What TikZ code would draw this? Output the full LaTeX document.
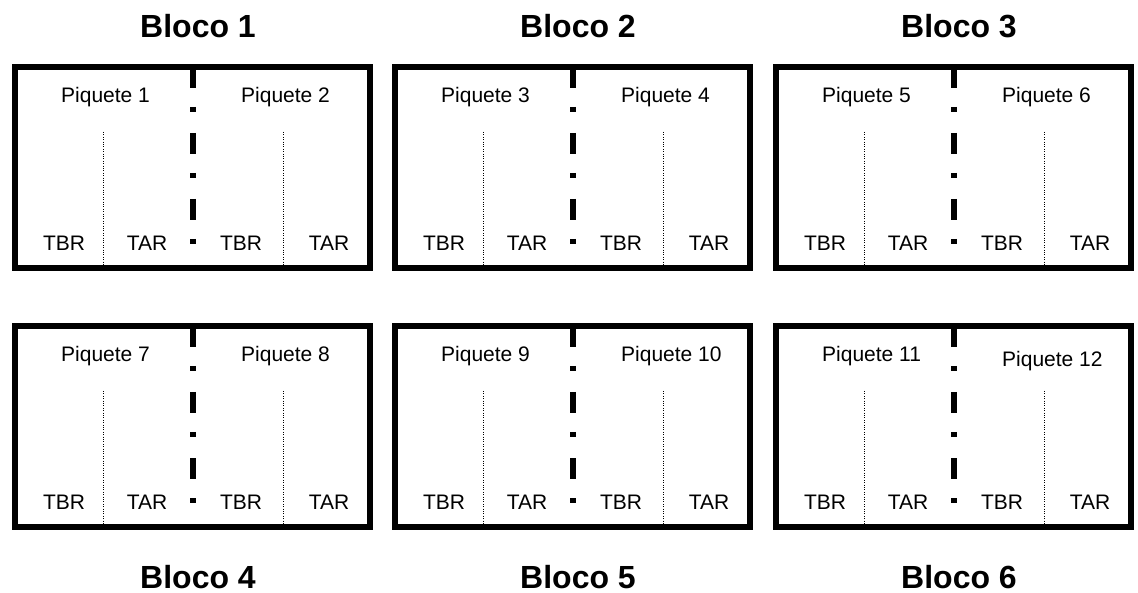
\documentclass[tikz,border=0pt]{standalone}
\usepackage{fontspec}
\setmainfont{Liberation Sans}

\tikzset{
  bloco/.style={line width=6.5pt},
  divisa/.style={line width=6pt, dash pattern=on 21pt off 19pt on 5pt off 21pt},
  trat/.style={line width=0.8pt, dash pattern=on 0.8pt off 1.6pt},
  titulo/.style={font=\fontsize{32}{38}\selectfont\bfseries},
  rotulo/.style={font=\fontsize{21}{25}\selectfont, inner sep=0pt},
}

\begin{document}
\begin{tikzpicture}[x=1pt,y=-1pt]
  \useasboundingbox (0,0) rectangle (1138,593);

  \foreach \b/\x/\y/\ty/\p/\q/\dq in {1/15/67/26/1/2/0, 2/395/67/26/3/4/0, 3/776/67/26/5/6/0,
                                       4/15/326/577/7/8/0, 5/395/326/577/9/10/0, 6/776/326/577/11/12/5}{
    \coordinate (a\b) at (\x,\y);
    \draw[bloco] (a\b) rectangle ++(355,201);
    \draw[divisa] (a\b) ++(178,0) -- ++(0,201);
    \draw[trat] (a\b) ++(88,65) -- ++(0,136);
    \draw[trat] (a\b) ++(268,65) -- ++(0,136);

    \node[titulo] (t\b) at (\x+183,\ty) {Bloco \b};
    \node[rotulo, anchor=west] (p\p) at (\x+46,\y+30) {Piquete \p};
    \node[rotulo, anchor=west] (p\q) at (\x+226,\y+30+\dq) {Piquete \q};
    \node[rotulo] (tbr\p) at (\x+49,\y+176) {TBR};
    \node[rotulo] (tar\p) at (\x+132,\y+176) {TAR};
    \node[rotulo] (tbr\q) at (\x+226,\y+176) {TBR};
    \node[rotulo] (tar\q) at (\x+314,\y+176) {TAR};
  }
\end{tikzpicture}
\end{document}
